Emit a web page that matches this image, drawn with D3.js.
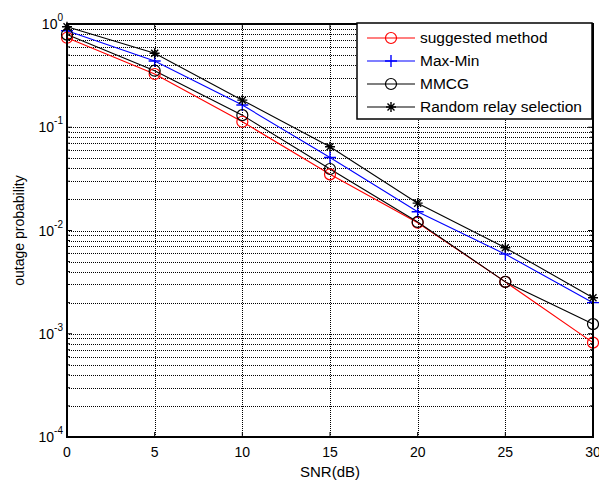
<!DOCTYPE html>
<html>
<head>
<meta charset="utf-8">
<script src="https://cdn.jsdelivr.net/npm/d3@7"></script>
<style>
  body { margin: 0; background: #fff; }
  text { font-family: "Liberation Sans", Arial, sans-serif; }
</style>
</head>
<body>
<div id="chart"></div>
<script>
// data
var snr = [0, 5, 10, 15, 20, 25, 30];
var suggested = [0.736, 0.328, 0.113, 0.035, 0.0119, 0.00318, 0.00082];
var maxMin    = [0.86, 0.438, 0.164, 0.051, 0.0152, 0.0059, 0.0020];
var mmcg      = [0.79, 0.353, 0.131, 0.0394, 0.0121, 0.00318, 0.00124];
var randomSel = [0.94, 0.52, 0.183, 0.0647, 0.0184, 0.0068, 0.00223];
var xTicks = [0, 5, 10, 15, 20, 25, 30];
var yDecades = [-4, -3, -2, -1, 0];

var series = [
  {name: "suggested method", vals: suggested, color: "#ff0000", marker: "circle"},
  {name: "Max-Min", vals: maxMin, color: "#0000ff", marker: "plus"},
  {name: "MMCG", vals: mmcg, color: "#000000", marker: "circle"},
  {name: "Random relay selection", vals: randomSel, color: "#000000", marker: "star"}
];

var W = 599, H = 480;
var margin = {top: 24, right: 6, bottom: 43, left: 67},
    width = W - margin.left - margin.right,
    height = H - margin.top - margin.bottom;

var svg = d3.select("#chart")
  .append("svg")
    .attr("width", W)
    .attr("height", H)
  .append("g")
    .attr("transform", "translate(" + margin.left + "," + margin.top + ")");

var x = d3.scaleLinear().domain([0, 30]).range([0, width]);
var y = d3.scaleLog().domain([1e-4, 1]).range([height, 0]);

// grid lines (major + minor for log axis)
var yGrid = [];
for (var e = -4; e < 0; e++) {
  for (var m = 1; m <= 9; m++) yGrid.push(m * Math.pow(10, e));
}
yGrid.push(1);

svg.selectAll(".ygrid")
  .data(yGrid)
  .enter().append("line")
    .attr("x1", 0).attr("x2", width)
    .attr("y1", function(d) { return Math.round(y(d)) + 0.5; })
    .attr("y2", function(d) { return Math.round(y(d)) + 0.5; })
    .attr("stroke", "#000")
    .attr("stroke-width", 1)
    .attr("stroke-dasharray", "1,1");

svg.selectAll(".xgrid")
  .data(xTicks)
  .enter().append("line")
    .attr("x1", function(d) { return Math.round(x(d)) + 0.5; })
    .attr("x2", function(d) { return Math.round(x(d)) + 0.5; })
    .attr("y1", 0).attr("y2", height)
    .attr("stroke", "#000")
    .attr("stroke-width", 1)
    .attr("stroke-dasharray", "1,1");

// tick marks on all sides
svg.selectAll(".ytick")
  .data(yGrid)
  .enter().append("path")
    .attr("d", function(d) {
      var len = Math.abs(Math.log10(d) - Math.round(Math.log10(d))) < 1e-9 ? 5 : 3;
      return "M0," + y(d) + "h" + len + "M" + width + "," + y(d) + "h" + (-len);
    })
    .attr("stroke", "#000");

svg.selectAll(".xtick")
  .data(xTicks)
  .enter().append("path")
    .attr("d", function(d) {
      return "M" + x(d) + "," + height + "v-5M" + x(d) + ",0v5";
    })
    .attr("stroke", "#000");

// x tick labels
svg.selectAll(".xlab")
  .data(xTicks)
  .enter().append("text")
    .attr("x", function(d) { return x(d); })
    .attr("y", height + 20)
    .attr("text-anchor", "middle")
    .style("font-size", "14px")
    .text(function(d) { return d; });

// y tick labels 10^n
var ylab = svg.selectAll(".ylab")
  .data(yDecades)
  .enter().append("text")
    .attr("x", -4)
    .attr("y", function(d) { return y(Math.pow(10, d)) + 5; })
    .attr("text-anchor", "end")
    .style("font-size", "14px");
ylab.append("tspan").text("10");
ylab.append("tspan")
    .attr("dy", -8)
    .style("font-size", "10px")
    .text(function(d) { return d; });

// axis titles
svg.append("text")
  .attr("x", width / 2)
  .attr("y", height + 40)
  .attr("text-anchor", "middle")
  .style("font-size", "15px")
  .text("SNR(dB)");

svg.append("text")
  .attr("transform", "translate(" + (-43) + "," + (height / 2) + ")rotate(-90)")
  .attr("text-anchor", "middle")
  .style("font-size", "14px")
  .text("outage probability");

// lines
var line = d3.line()
  .x(function(d, i) { return x(snr[i]); })
  .y(function(d) { return y(d); });

series.forEach(function(s) {
  svg.append("path")
    .datum(s.vals)
    .attr("d", line)
    .attr("fill", "none")
    .attr("stroke", s.color)
    .attr("stroke-width", 1.1);
});

function drawMarker(g, type, color, cx, cy) {
  if (type === "circle") {
    g.append("circle")
      .attr("cx", cx).attr("cy", cy).attr("r", 5.5)
      .attr("fill", "none").attr("stroke", color).attr("stroke-width", 1.2);
  } else if (type === "plus") {
    g.append("path")
      .attr("d", "M" + (cx - 6) + "," + cy + "h12M" + cx + "," + (cy - 6) + "v12")
      .attr("stroke", color).attr("stroke-width", 1.4);
  } else {
    g.append("path")
      .attr("d", "M" + (cx - 5) + "," + cy + "h10M" + cx + "," + (cy - 5) + "v10" +
                 "M" + (cx - 3.5) + "," + (cy - 3.5) + "l7,7M" + (cx - 3.5) + "," + (cy + 3.5) + "l7,-7")
      .attr("stroke", color).attr("stroke-width", 1.4);
  }
}

series.forEach(function(s) {
  s.vals.forEach(function(v, i) {
    drawMarker(svg, s.marker, s.color, x(snr[i]), y(v));
  });
});

// axes box
svg.append("rect")
  .attr("x", 0).attr("y", 0)
  .attr("width", width).attr("height", height)
  .attr("fill", "none")
  .attr("stroke", "#000")
  .attr("stroke-width", 2);

// legend
var lg = svg.append("g").attr("transform", "translate(" + (357 - margin.left) + "," + (23 - margin.top) + ")");
lg.append("rect")
  .attr("width", 235).attr("height", 96)
  .attr("fill", "#fff")
  .attr("stroke", "#000")
  .attr("stroke-width", 1.5);

series.forEach(function(s, i) {
  var ly = 15 + i * 23;
  lg.append("line")
    .attr("x1", 10).attr("x2", 58)
    .attr("y1", ly).attr("y2", ly)
    .attr("stroke", s.color).attr("stroke-width", 1.1);
  drawMarker(lg, s.marker, s.color, 34, ly);
  lg.append("text")
    .attr("x", 63).attr("y", ly + 5)
    .style("font-size", "15.5px")
    .text(s.name);
});
</script>
</body>
</html>
